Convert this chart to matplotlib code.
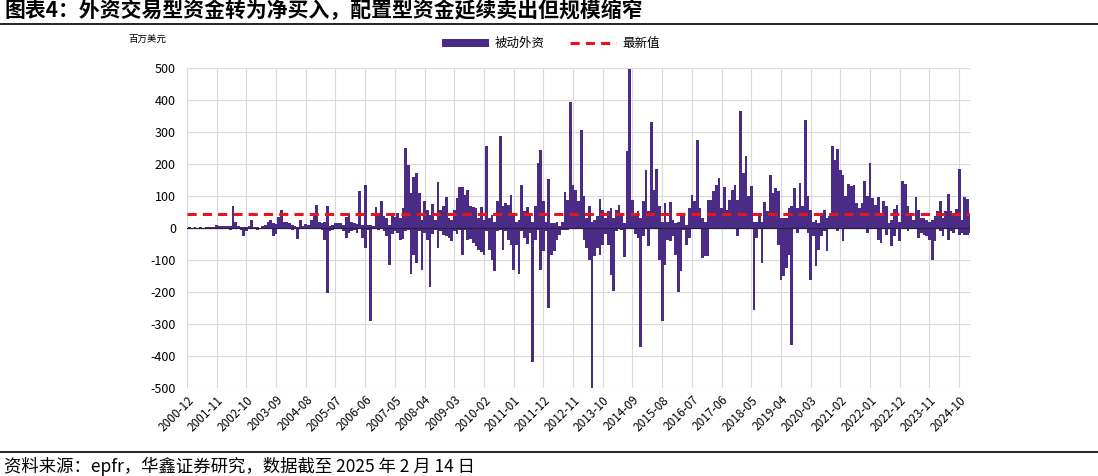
import numpy as np
import matplotlib as mpl
mpl.use("Agg")
import matplotlib.pyplot as plt
from matplotlib.lines import Line2D
from matplotlib.patches import Patch

plt.rcParams['font.family'] = ['Noto Sans CJK SC', 'DejaVu Sans']
plt.rcParams['axes.unicode_minus'] = False

# monthly positions, 2000-12 .. 2025-02 (weekly flows drawn on a month axis,
# so each month shows its biggest inflow week and its biggest outflow week)
month_high = [
    1, 2, 1, 2, 1, 2, 1, 2, 3, 2, 4, 8, 6, 7, 5, 6, 5, 68, 18, 5,
    3, 4, 2, 6, 26, 3, 2, 1, 5, 10, 20, 25, 15, 12, 34, 57, 20, 18, 15, 10,
    5, 2, 24, 5, 12, 8, 26, 47, 73, 20, 15, 20, 68, 5, 8, 15, 17, 15, 10, 34,
    47, 20, 15, 12, 115, 10, 133, 10, 10, 5, 65, 42, 83, 36, 30, 10, 42, 35, 47, 30,
    62, 250, 198, 110, 160, 172, 110, 26, 83, 57, 42, 76, 26, 144, 57, 68, 97, 30, 25, 57,
    94, 127, 128, 104, 120, 68, 66, 62, 30, 66, 26, 257, 30, 40, 20, 83, 289, 68, 78, 73,
    104, 36, 20, 26, 133, 52, 66, 36, 20, 70, 203, 245, 83, 20, 153, 15, 15, 20, 5, 20,
    111, 89, 393, 135, 120, 83, 307, 99, 31, 68, 20, 26, 36, 91, 57, 31, 52, 62, 30, 57,
    73, 36, 15, 240, 498, 89, 36, 52, 30, 83, 182, 52, 330, 120, 185, 68, 20, 78, 20, 80,
    26, 15, 20, 42, 42, 10, 62, 104, 83, 276, 62, 31, 20, 89, 89, 115, 135, 156, 62, 128,
    57, 89, 120, 135, 89, 365, 172, 226, 99, 130, 20, 20, 42, 20, 80, 52, 167, 110, 125, 115,
    30, 30, 30, 62, 70, 125, 62, 140, 68, 339, 99, 57, 18, 26, 15, 42, 57, 31, 36, 257,
    213, 247, 182, 167, 99, 139, 130, 133, 78, 62, 78, 146, 101, 203, 94, 73, 97, 47, 83, 68,
    15, 26, 59, 73, 20, 146, 139, 70, 47, 26, 96, 57, 31, 31, 26, 20, 26, 36, 52, 85,
    31, 52, 106, 52, 36, 60, 184, 26, 96, 91, 42,
]
month_low = [
    0, 0, 0, 0, -1, 0, 0, 0, 0, -1, 0, 0, 0, -2, 0, -3, -5, 0, 0, -2,
    -5, -24, -10, -3, 0, -2, -5, -3, 0, 0, 0, 0, -25, -20, 0, 0, 0, -3, 0, -5,
    -3, -34, 0, -2, 0, 0, 0, 0, 0, 0, -5, -36, -203, -10, -5, 0, 0, -3, -10, -30,
    -15, -10, -5, -15, 0, -30, -62, -5, -290, -3, 0, -5, 0, -10, -26, -115, -20, -10, -15, -36,
    -35, -10, -5, -143, -83, -110, -10, -132, -16, -36, -184, -20, -5, -62, -10, -21, -26, -31, -42, -10,
    -20, -5, -83, -5, -36, -34, -47, -55, -68, -76, -83, -10, -68, -99, -135, -10, -5, -68, -10, -36,
    -52, -130, -52, -143, -10, -31, -49, -15, -418, -36, -5, -130, -73, -10, -250, -83, -73, -36, -21, -5,
    -5, -5, 0, 0, 0, 0, 0, -36, -62, -99, -503, -89, -62, -83, -52, -20, -52, -146, -198, -10,
    0, -5, -92, 0, 0, 0, -20, -31, -372, -26, 0, -57, 0, 0, 0, -99, -292, -115, -36, -42,
    -26, -83, -201, -135, -5, -52, -31, 0, 0, 0, 0, -94, -86, -86, 0, 0, 0, 0, 0, 0,
    0, 0, 0, 0, -26, 0, 0, 0, 0, 0, -255, -31, 0, -109, 0, 0, 0, 0, 0, -52,
    -164, -151, -125, -83, -365, 0, -16, 0, 0, 0, -16, -161, -26, -120, -68, -26, -10, -73, 0, 0,
    0, -10, 0, -42, 0, 0, 0, 0, 0, 0, 0, 0, -16, 0, 0, 0, -36, -47, 0, -21,
    0, -57, -26, 0, -42, 0, 0, -10, 0, 0, 0, -31, -15, -21, -26, -36, -101, -42, 0, -10,
    -26, 0, -36, -10, -15, 0, -21, -16, -21, -21, -15,
]
latest_value = 45

tick_labels = [
    "2000-12", "2001-11", "2002-10", "2003-09", "2004-08", "2005-07", "2006-06",
    "2007-05", "2008-04", "2009-03", "2010-02", "2011-01", "2011-12", "2012-11",
    "2013-10", "2014-09", "2015-08", "2016-07", "2017-06", "2018-05", "2019-04",
    "2020-03", "2021-02", "2022-01", "2022-12", "2023-11", "2024-10",
]
tick_step = 11  # one label every 11 months

bar_color = "#4a2c86"
red = "#e8141c"

fig = plt.figure(figsize=(10.98, 4.76), dpi=100)
ax = fig.add_axes([0.1703, 0.1849, 0.7131, 0.6722])

x = np.arange(len(month_high))
ax.bar(x, month_high, width=1.0, color=bar_color, linewidth=0)
ax.bar(x, month_low, width=1.0, color=bar_color, linewidth=0)
ax.axhline(0, color="#2a1f40", linewidth=0.9, zorder=3)
ax.axhline(latest_value, color=red, linewidth=2.2, linestyle=(0, (3.0, 2.0)), zorder=4)

ax.set_xlim(0, len(month_high) - 1)
ax.set_ylim(-500, 500)
ax.set_yticks(np.arange(-500, 501, 100))
ax.set_xticks(np.arange(len(tick_labels)) * tick_step)
ax.set_xticklabels(tick_labels, rotation=45, ha="right", rotation_mode="anchor", fontsize=8.5)
ax.tick_params(axis="y", labelsize=9, length=0, pad=8)
ax.tick_params(axis="x", length=0, pad=4)
ax.grid(True, color="#d9d9d9", linewidth=0.8)
ax.set_axisbelow(True)
for s in ax.spines.values():
    s.set_visible(False)

handles = [Patch(facecolor=bar_color, edgecolor="none"),
           Line2D([0], [0], color=red, linewidth=2.2, linestyle=(0, (3.0, 2.0)))]
fig.legend(handles, ["被动外资", "最新值"], loc="center", bbox_to_anchor=(0.502, 0.908),
           ncol=2, frameon=False, fontsize=9, handlelength=3.7, handleheight=0.7,
           columnspacing=2.0, handletextpad=0.5)

fig.text(0.117, 0.918, "百万美元", fontsize=6.8, ha="left", va="center")
fig.text(0.004, 0.978, "图表4：外资交易型资金转为净买入，配置型资金延续卖出但规模缩窄",
         fontsize=15, fontweight="bold", ha="left", va="center")
fig.add_artist(Line2D([0, 1], [0.950, 0.950], color="black", linewidth=1.2))
fig.add_artist(Line2D([0, 1], [0.050, 0.050], color="black", linewidth=1.2))
fig.text(0.004, 0.020, "资料来源：epfr，华鑫证券研究，数据截至 2025 年 2 月 14 日",
         fontsize=12.5, ha="left", va="center")

fig.savefig("out.png", dpi=100)
